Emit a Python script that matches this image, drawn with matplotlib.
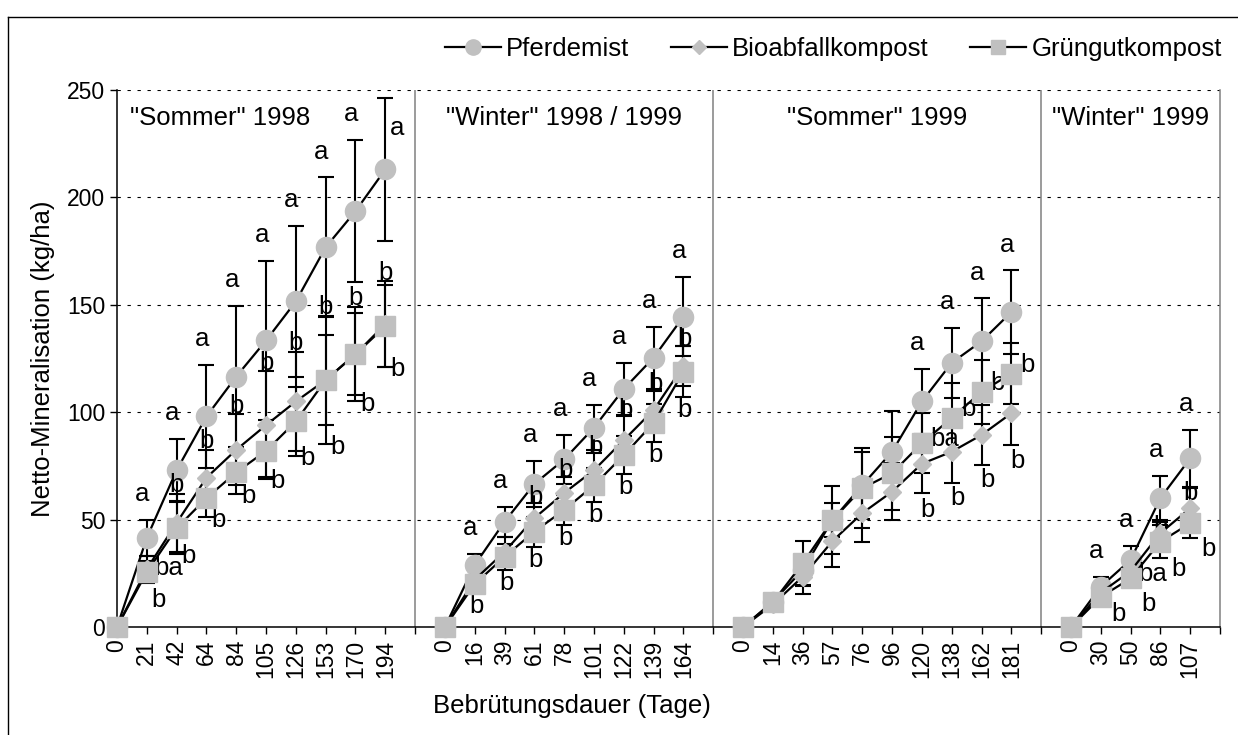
import numpy as np
import matplotlib.pyplot as plt
from matplotlib.lines import Line2D

plt.rcParams['font.family'] = ['Liberation Sans', 'DejaVu Sans']

# Zeitraeume (Ueberschriften)
titel = ['"Sommer" 1998', '"Winter" 1998 / 1999', '"Sommer" 1999', '"Winter" 1999']

# "Sommer" 1998
tage_s98 = ['0', '21', '42', '64', '84', '105', '126', '153', '170', '194']
pferd_s98 = [0, 41.5, 73, 98, 116.6, 133.4, 151.6, 176.8, 193.6, 213]
pferd_s98_err = [0, 8.5, 14.5, 24, 33, 37, 35, 32.5, 33, 33.5]
bio_s98 = [0, 27, 48.5, 69.5, 82.5, 94, 105, 115, 127, 141]
bio_s98_err = [0, 6, 13.5, 13, 16.5, 25, 23, 30, 22, 20]
gruen_s98 = [0, 25.6, 46, 60, 72, 82, 95.7, 115, 127, 140]
gruen_s98_err = [0, 5, 12, 9, 10, 12, 16, 21, 19, 19]
sig_a_s98 = ['', 'a', 'a', 'a', 'a', 'a', 'a', 'a', 'a', 'a']
sig_hi_s98 = ['', 'ba', 'b', 'b', 'b', 'b', 'b', 'b', 'b', 'b']
sig_lo_s98 = ['', 'b', 'b', 'b', 'b', 'b', 'b', 'b', 'b', 'b']

# "Winter" 1998 / 1999
tage_w98 = ['0', '16', '39', '61', '78', '101', '122', '139', '164']
pferd_w98 = [0, 28.9, 49, 66.6, 78, 92.8, 110.8, 125.4, 144.5]
pferd_w98_err = [0, 5, 7, 10.7, 11.4, 10.5, 12.2, 14.4, 18.5]
bio_w98 = [0, 22, 35, 50.7, 62.4, 73, 87, 101, 121.5]
bio_w98_err = [0, 4, 7, 7, 7.6, 8, 11, 9, 9.5]
gruen_w98 = [0, 20, 32.7, 44.4, 54.5, 66, 80, 95, 118.9]
gruen_w98_err = [0, 4, 6, 7, 7, 8, 9, 9, 12]
sig_a_w98 = ['', 'a', 'a', 'a', 'a', 'a', 'a', 'a', 'a']
sig_hi_w98 = ['', '', '', 'b', 'b', 'b', 'b', 'b', 'b']
sig_lo_w98 = ['', 'b', 'b', 'b', 'b', 'b', 'b', 'b', 'b']

# "Sommer" 1999
tage_s99 = ['0', '14', '36', '57', '76', '96', '120', '138', '162', '181']
pferd_s99 = [0, 11.8, 26.5, 49.8, 66, 81.6, 105, 123, 133, 146.6]
pferd_s99_err = [0, 2, 7, 8, 15.6, 19, 15, 16.4, 20, 19.4]
bio_s99 = [0, 10.5, 23.4, 40, 53, 63, 76, 81.6, 89.4, 99.5]
bio_s99_err = [0, 2, 8, 12, 13.3, 13.2, 13.6, 14.4, 14, 15]
gruen_s99 = [0, 11.5, 29.6, 49.8, 64.6, 71.6, 85.6, 97.3, 109.5, 118]
gruen_s99_err = [0, 2, 10.6, 15.8, 18.6, 17, 14, 16.3, 14.8, 14]
sig_a_s99 = ['', '', '', '', '', '', 'a', 'a', 'a', 'a']
sig_hi_s99 = ['', '', '', '', '', '', 'ba', 'b', 'b', 'b']
sig_lo_s99 = ['', '', '', '', '', '', 'b', 'b', 'b', 'b']

# "Winter" 1999
tage_w99 = ['0', '30', '50', '86', '107']
pferd_w99 = [0, 18.8, 31.2, 60, 78.5]
pferd_w99_err = [0, 4.6, 6.5, 10.4, 13.2]
bio_w99 = [0, 16, 26, 43.7, 55.3]
bio_w99_err = [0, 3, 4, 5, 9.3]
gruen_w99 = [0, 14, 22.6, 39.7, 48.3]
gruen_w99_err = [0, 3, 4, 7.7, 7]
sig_a_w99 = ['', 'a', 'a', 'a', 'a']
sig_hi_w99 = ['', '', 'ba', 'b', 'b']
sig_lo_w99 = ['', 'b', 'b', 'b', 'b']

panels = [
    (tage_s98, pferd_s98, pferd_s98_err, bio_s98, bio_s98_err, gruen_s98, gruen_s98_err, sig_a_s98, sig_hi_s98, sig_lo_s98),
    (tage_w98, pferd_w98, pferd_w98_err, bio_w98, bio_w98_err, gruen_w98, gruen_w98_err, sig_a_w98, sig_hi_w98, sig_lo_w98),
    (tage_s99, pferd_s99, pferd_s99_err, bio_s99, bio_s99_err, gruen_s99, gruen_s99_err, sig_a_s99, sig_hi_s99, sig_lo_s99),
    (tage_w99, pferd_w99, pferd_w99_err, bio_w99, bio_w99_err, gruen_w99, gruen_w99_err, sig_a_w99, sig_hi_w99, sig_lo_w99),
]
# Lage der b-Buchstaben je Panel (dx, dy) relativ zum Fehlerbalken; None = neben dem Quadrat
lage_hi = [(0, 4), (0.05, 3), None, (0, -2)]
lage_lo = [(0.4, -1), (0.05, -6), (0.2, -7), (0.6, -5)]

grau = '#c0c0c0'
fs = 18.5
W, H = 1238, 735

fig = plt.figure(figsize=(W / 100, H / 100), dpi=100)
ax = fig.add_axes([117 / W, 1 - 627 / H, (1220 - 117) / W, (627 - 90) / H])

ticks, ticklabels = [], []
start = 0
for i, (tage, p, pe, b, be, g, ge, sa, shi, slo) in enumerate(panels):
    x = np.arange(len(tage)) + start
    p, pe, b, be, g, ge = map(np.array, (p, pe, b, be, g, ge))
    for y, e in [(p, pe), (b, be), (g, ge)]:
        ax.errorbar(x, y, yerr=e, fmt='none', ecolor='black', elinewidth=1.5,
                    capsize=6, capthick=1.5, zorder=2)
    ax.plot(x, p, color='black', lw=1.6, marker='o', ms=14.5, mfc=grau, mec=grau, zorder=3, clip_on=False)
    ax.plot(x, b, color='black', lw=1.6, marker='D', ms=9.5, mfc=grau, mec=grau, zorder=3.1, clip_on=False)
    ax.plot(x, g, color='black', lw=1.6, marker='s', ms=14, mfc=grau, mec=grau, zorder=3.2, clip_on=False)

    # Signifikanz-Buchstaben
    for j in range(len(tage)):
        if sa[j]:
            top = p[j] + pe[j]
            if top + 12 > 245:
                ax.text(x[j] + 0.4, top - 14, sa[j], fontsize=fs, ha='center', va='center')
            else:
                ax.text(x[j] - 0.15, top + 12, sa[j], fontsize=fs, ha='center', va='center')
        hi = max(b[j] + be[j], g[j] + ge[j])
        lo = min(b[j] - be[j], g[j] - ge[j])
        if shi[j] == 'ba':
            ax.text(x[j] + 0.75, g[j] + 2, shi[j], fontsize=fs, ha='center', va='center')
        elif shi[j]:
            if lage_hi[i] is None:
                ax.text(x[j] + 0.55, g[j] + 4, shi[j], fontsize=fs, ha='center', va='center')
            else:
                dx, dy = lage_hi[i]
                ax.text(x[j] + dx, hi + dy, shi[j], fontsize=fs, ha='center', va='center')
        if slo[j]:
            dx, dy = lage_lo[i]
            if shi[j] == 'ba':
                dy = min(dy, -8)
            ax.text(x[j] + dx, lo + dy, slo[j], fontsize=fs, ha='center', va='center')

    left, right = start - 1, start + len(tage)
    if i == 0:
        ax.text(start + 0.45, 237, titel[i], fontsize=fs, ha='left', va='center')
    else:
        ax.text((left + right) / 2, 237, titel[i], fontsize=fs, ha='center', va='center')
    if i > 0:
        ax.axvline(left, color='#808080', lw=1.1, zorder=1)

    ticks += list(x)
    ticklabels += tage
    start = right + 1

ax.set_xlim(0, start - 1)
ax.set_ylim(0, 250)
ax.set_yticks(np.arange(0, 251, 50))
ax.set_xticks(ticks)
ax.set_xticklabels(ticklabels, rotation=90)
ax.set_xticks(np.arange(0, start), minor=True)
ax.tick_params(axis='both', which='both', direction='out', length=5, width=1, color='black', labelsize=16.5)
ax.tick_params(axis='x', which='major', pad=4)
ax.yaxis.grid(True, linestyle=(0, (3, 6)), color='black', lw=0.8)
ax.set_axisbelow(True)

ax.spines['top'].set_visible(False)
ax.spines['right'].set_color('#808080')
ax.spines['right'].set_linewidth(1.1)
ax.spines['left'].set_linewidth(1.1)
ax.spines['bottom'].set_linewidth(1.1)

ax.set_ylabel('Netto-Mineralisation (kg/ha)', fontsize=fs)
ax.yaxis.set_label_coords((55 - 117) / 1103, 0.5)
ax.set_xlabel('Bebrütungsdauer (Tage)', fontsize=fs)
ax.xaxis.set_label_coords((572 - 117) / 1103, -0.125)

handles = [
    Line2D([], [], color='black', lw=1.6, marker='o', ms=11, mfc=grau, mec=grau),
    Line2D([], [], color='black', lw=1.6, marker='D', ms=7, mfc=grau, mec=grau),
    Line2D([], [], color='black', lw=1.6, marker='s', ms=10.5, mfc=grau, mec=grau),
]
fig.legend(handles, ['Pferdemist', 'Bioabfallkompost', 'Grüngutkompost'],
           loc='center right', bbox_to_anchor=(1222 / W, 1 - 49 / H), ncol=3,
           frameon=False, fontsize=fs, handlelength=2.2, handletextpad=0.2,
           columnspacing=1.6, borderpad=0, borderaxespad=0)

# Rahmen des Diagrammbereichs
fig.add_artist(Line2D([8 / W, 8 / W], [0, 1 - 17 / H], transform=fig.transFigure, color='black', lw=1))
fig.add_artist(Line2D([8 / W, 1], [1 - 17 / H, 1 - 17 / H], transform=fig.transFigure, color='black', lw=1))

fig.savefig('out.png', dpi=100)
